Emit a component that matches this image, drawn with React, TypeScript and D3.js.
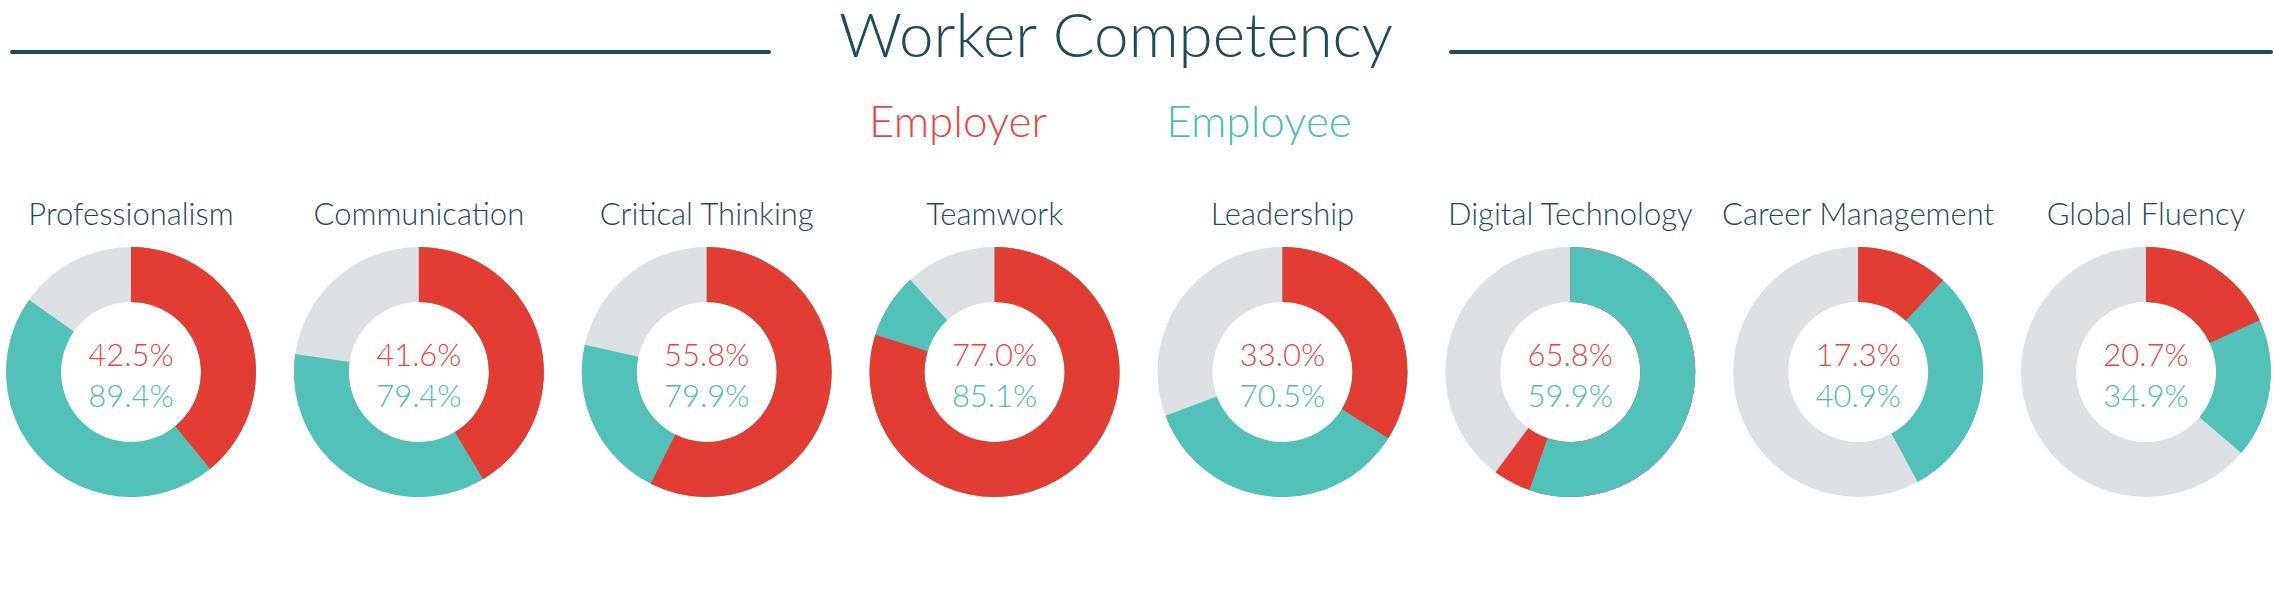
import React from "react";
import * as d3 from "d3";

const categories = [
  "Professionalism",
  "Communication",
  "Critical Thinking",
  "Teamwork",
  "Leadership",
  "Digital Technology",
  "Career Management",
  "Global Fluency",
];
// printed percentages
const employerLabels = [42.5, 41.6, 55.8, 77.0, 33.0, 65.8, 17.3, 20.7];
const employeeLabels = [89.4, 79.4, 79.9, 85.1, 70.5, 59.9, 40.9, 34.9];
// arc extents as drawn in the picture (percent of the ring)
const employerArcs = [39.1, 41.4, 57.4, 79.8, 33.9, 60.2, 11.9, 18.2];
const employeeArcs = [84.8, 77.3, 78.5, 88.2, 69.3, 55.3, 42.1, 36.2];
const seriesNames = ["Employer", "Employee"];
const titleText = "Worker Competency";

const W = 2275;
const H = 591;
const RED = "#E33C33";
const RED_TEXT = "#E8483F";
const TEAL = "#52C2B9";
const TEAL_TEXT = "#4FBDB4";
const GREY = "#DDE0E3";
const DARK = "#1F4A5C";
const FONT = "Lato, 'Open Sans', sans-serif";

export default function App() {
  const x = d3.scalePoint<string>().domain(categories).range([131, 2146]);
  const angle = d3.scaleLinear().domain([0, 100]).range([0, 2 * Math.PI]);
  const cy = 372;
  const arc = d3.arc<{ s: number; e: number }>()
    .innerRadius(70)
    .outerRadius(125)
    .startAngle((d) => angle(d.s))
    .endAngle((d) => angle(d.e));

  return (
    <svg
      width={W}
      height={H}
      viewBox={`0 0 ${W} ${H}`}
      style={{ position: "absolute", left: 0, top: 0, background: "#fff" }}
    >
      <rect x={0} y={0} width={W} height={H} fill="#fff" />
      <line x1={12} x2={769} y1={52} y2={52} stroke={DARK} strokeWidth={4} strokeLinecap="round" />
      <line x1={1451} x2={2271} y1={52} y2={52} stroke={DARK} strokeWidth={4} strokeLinecap="round" />
      <text
        x={1116}
        y={57}
        textAnchor="middle"
        fontFamily={FONT}
        fontWeight={300}
        fontSize={62}
        fill={DARK}
      >
        {titleText}
      </text>
      <text x={958} y={137} textAnchor="middle" fontFamily={FONT} fontWeight={300} fontSize={44} fill={RED_TEXT}>
        {seriesNames[0]}
      </text>
      <text x={1259} y={137} textAnchor="middle" fontFamily={FONT} fontWeight={300} fontSize={44} fill={TEAL_TEXT}>
        {seriesNames[1]}
      </text>
      {categories.map((c, i) => {
        const cx = x(c) as number;
        const er = employerArcs[i];
        const ee = employeeArcs[i];
        const layers =
          er >= ee
            ? [
                { v: er, color: RED },
                { v: ee, color: TEAL },
              ]
            : [
                { v: ee, color: TEAL },
                { v: er, color: RED },
              ];
        return (
          <g key={c}>
            <text
              x={cx}
              y={225}
              textAnchor="middle"
              fontFamily={FONT}
              fontWeight={300}
              fontSize={31}
              fill={DARK}
            >
              {c}
            </text>
            <g transform={`translate(${cx},${cy})`}>
              <path d={arc({ s: 0, e: 100 }) as string} fill={GREY} />
              {layers.map((l, k) => (
                <path key={k} d={arc({ s: 0, e: l.v }) as string} fill={l.color} />
              ))}
            </g>
            <text x={cx} y={366} textAnchor="middle" fontFamily={FONT} fontWeight={300} fontSize={31} fill={RED_TEXT}>
              {employerLabels[i].toFixed(1)}%
            </text>
            <text x={cx} y={407} textAnchor="middle" fontFamily={FONT} fontWeight={300} fontSize={31} fill={TEAL_TEXT}>
              {employeeLabels[i].toFixed(1)}%
            </text>
          </g>
        );
      })}
    </svg>
  );
}
